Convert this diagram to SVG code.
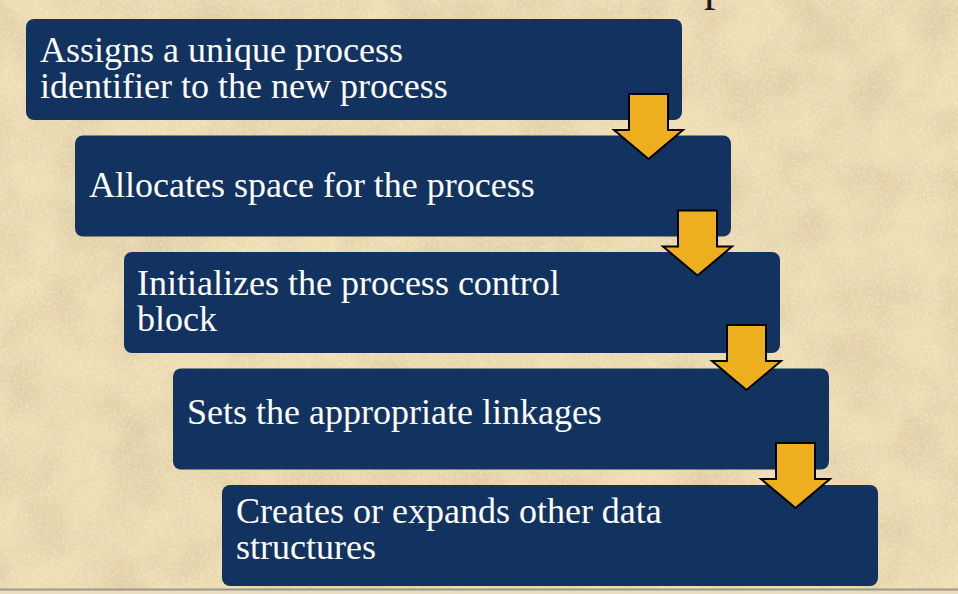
<svg xmlns="http://www.w3.org/2000/svg" width="958" height="594" viewBox="0 0 958 594">
  <defs>
    <filter id="parchment" x="0" y="0" width="100%" height="100%">
      <feTurbulence type="fractalNoise" baseFrequency="0.018" numOctaves="5" seed="7" result="noise"/>
      <feColorMatrix in="noise" type="matrix" values="0 0 0 0 0.62  0 0 0 0 0.50  0 0 0 0 0.30  0 0 0 -1.6 1.05" result="tint"/>
      <feComposite in="tint" in2="SourceGraphic" operator="in"/>
    </filter>
    <filter id="speck" x="0" y="0" width="100%" height="100%">
      <feTurbulence type="fractalNoise" baseFrequency="0.35" numOctaves="2" seed="3" result="n2"/>
      <feColorMatrix in="n2" type="matrix" values="0 0 0 0 1  0 0 0 0 0.97  0 0 0 0 0.88  0 0 0 -2.2 1.25"/>
      <feComposite in2="SourceGraphic" operator="in"/>
    </filter>
  </defs>
  <style>
    .box { fill: #12335F; }
    .label { fill: #FFFFFF; font-family: "Liberation Serif", "Times New Roman", serif; font-size: 36px; }
    .arrow { fill: #EEAF1E; stroke: #000000; stroke-width: 2; stroke-linejoin: miter; }
  </style>

  <!-- parchment background -->
  <rect x="0" y="0" width="958" height="594" fill="#EEDCB3"/>
  <rect x="0" y="0" width="958" height="594" fill="#EEDCB3" filter="url(#parchment)" opacity="0.55"/>
  <rect x="0" y="0" width="958" height="594" fill="#fff" filter="url(#speck)" opacity="0.35"/>

  <!-- descender of the heading above the frame -->
  <text x="704" y="-0.5" style="fill:#1a1a1a; font-family:'Liberation Serif','Times New Roman',serif; font-size:46px;">p</text>

  <!-- frame rule at the bottom -->
  <rect x="0" y="590" width="958" height="4" fill="#E9DCC0"/>
  <line x1="0" y1="589.5" x2="958" y2="589.5" stroke="#9D978C" stroke-width="2"/>

  <g id="step1">
    <rect class="box" x="26" y="19" width="656" height="101" rx="8"/>
    <text class="label" x="40" y="62"><tspan x="40" y="62">Assigns a unique process</tspan><tspan x="40" y="98">identifier to the new process</tspan></text>
  </g>
  <g id="step2">
    <rect class="box" x="75" y="135.5" width="656" height="101" rx="8"/>
    <text class="label" x="89" y="197">Allocates space for the process</text>
  </g>
  <g id="step3">
    <rect class="box" x="124" y="252" width="656" height="101" rx="8"/>
    <text class="label" x="137" y="295"><tspan x="137" y="295">Initializes the process control</tspan><tspan x="137" y="331">block</tspan></text>
  </g>
  <g id="step4">
    <rect class="box" x="173" y="368.5" width="656" height="101" rx="8"/>
    <text class="label" x="187" y="424">Sets the appropriate linkages</text>
  </g>
  <g id="step5">
    <rect class="box" x="222" y="485" width="656" height="101" rx="8"/>
    <text class="label" x="236" y="523"><tspan x="236" y="523">Creates or expands other data</tspan><tspan x="236" y="559">structures</tspan></text>
  </g>

  <!-- block arrows linking each step to the next -->
  <g id="connectors">
    <path class="arrow" d="M629 94 H668 V130 H683 L648.5 159 L614 130 H629 Z"/>
    <path class="arrow" d="M678 210.5 H717 V246.5 H732 L697.5 275.5 L663 246.5 H678 Z"/>
    <path class="arrow" d="M727 325 H766 V361 H781 L746.5 390 L712 361 H727 Z"/>
    <path class="arrow" d="M776 443 H815 V479 H830 L795.5 508 L761 479 H776 Z"/>
  </g>
</svg>
